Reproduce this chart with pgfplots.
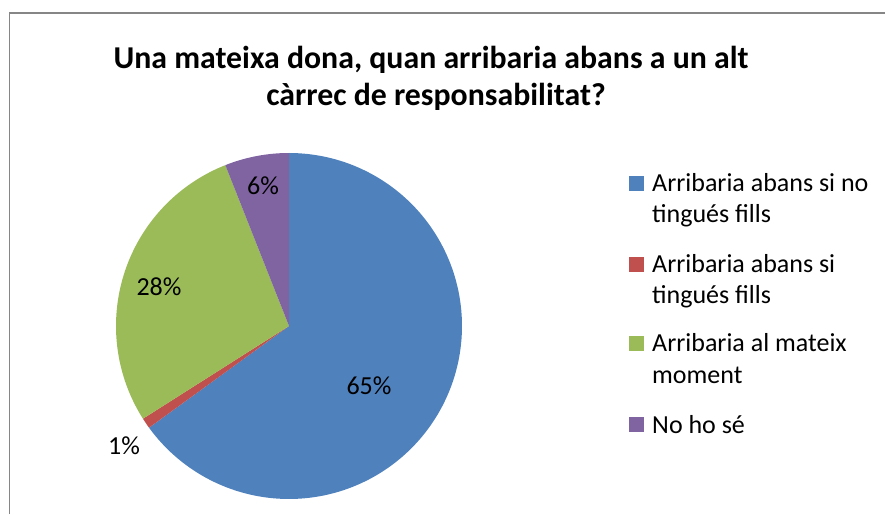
\documentclass[border=0pt]{standalone}
\usepackage{pgfplots}
\pgfplotsset{compat=1.18}
\usepackage{fontspec}
\setmainfont{Carlito}
\definecolor{cblue}{HTML}{4F81BD}
\definecolor{cred}{HTML}{C0504D}
\definecolor{cgreen}{HTML}{9BBB59}
\definecolor{cpurple}{HTML}{8064A2}
\definecolor{cborder}{HTML}{868686}
% shares (percent)
\def\va{65}\def\vb{1}\def\vc{28}\def\vd{6}
\def\cx{289}\def\cy{188}\def\R{173}
\pgfmathsetmacro\aA{90}
\pgfmathsetmacro\aB{\aA-3.6*\va}
\pgfmathsetmacro\aC{\aB-3.6*\vb}
\pgfmathsetmacro\aD{\aC-3.6*\vc}
\pgfmathsetmacro\aE{\aD-3.6*\vd}
\begin{document}
\begin{tikzpicture}
\useasboundingbox (0,0) rectangle (885pt,514pt);
\begin{axis}[
  at={(0,0)}, anchor=south west,
  scale only axis, width=885pt, height=514pt,
  xmin=0, xmax=885, ymin=0, ymax=514,
  hide axis, clip=false,
]
\draw[cborder, line width=1.3pt] (axis cs:9.5,0) -- (axis cs:9.5,501) -- (axis cs:885,501);
\addplot[fill=cblue, draw=none, domain=\aB:\aA, samples=150]
  ({\cx+\R*cos(x)},{\cy+\R*sin(x)}) -- (axis cs:\cx,\cy) -- cycle;
\addplot[fill=cred, draw=none, domain=\aC:\aB, samples=10]
  ({\cx+\R*cos(x)},{\cy+\R*sin(x)}) -- (axis cs:\cx,\cy) -- cycle;
\addplot[fill=cgreen, draw=none, domain=\aD:\aC, samples=80]
  ({\cx+\R*cos(x)},{\cy+\R*sin(x)}) -- (axis cs:\cx,\cy) -- cycle;
\addplot[fill=cpurple, draw=none, domain=\aE:\aD, samples=30]
  ({\cx+\R*cos(x)},{\cy+\R*sin(x)}) -- (axis cs:\cx,\cy) -- cycle;
% legend
\fill[cblue]   (axis cs:629,323) rectangle (axis cs:644,338);
\fill[cred]    (axis cs:629,242) rectangle (axis cs:644,257);
\fill[cgreen]  (axis cs:629,163) rectangle (axis cs:644,178);
\fill[cpurple] (axis cs:629,82)  rectangle (axis cs:644,97);
\begin{scope}[font=\fontsize{26}{31}\selectfont, every node/.style={anchor=base west, inner sep=0pt}]
\node at (axis cs:652,322) {Arribaria abans si no};
\node at (axis cs:652,291) {tingués fills};
\node at (axis cs:652,241) {Arribaria abans si};
\node at (axis cs:652,210) {tingués fills};
\node at (axis cs:652,162) {Arribaria al mateix};
\node at (axis cs:652,131) {moment};
\node at (axis cs:652,81)  {No ho sé};
\end{scope}
\begin{scope}[font=\fontsize{26}{31}\selectfont]
\node at (axis cs:369,128) {65\%};
\node at (axis cs:159,227) {28\%};
\node at (axis cs:263,328) {6\%};
\node at (axis cs:124,68) {1\%};
\end{scope}
\begin{scope}[font=\fontsize{31.8}{38}\selectfont\bfseries]
\node[anchor=base] at (axis cs:431,445) {Una mateixa dona, quan arribaria abans a un alt};
\node[anchor=base] at (axis cs:436,408) {càrrec de responsabilitat?};
\end{scope}
\end{axis}
\end{tikzpicture}
\end{document}
